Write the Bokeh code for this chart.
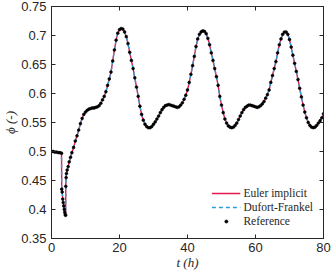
from bokeh.plotting import figure
from bokeh.models import (LinearAxis, Range1d, FixedTicker, Legend, LegendItem,
                          ColumnDataSource)
from bokeh.embed import file_html
from bokeh.resources import INLINE

# ---- data ----
t_h = [0, 0.5, 1, 1.5, 2, 2.5, 2.95, 3.0, 3.15, 3.3, 3.45, 3.6, 3.75, 3.9, 4.05, 4.15,
       4.2, 4.3, 4.4, 4.6, 4.9, 5.2, 5.6, 6.0, 6.5, 7.0, 7.5, 8.0, 8.5, 9.0, 9.5,
       10, 10.5, 11, 11.5, 12, 12.5, 13, 13.5, 14, 14.5, 15, 15.5, 16, 16.5, 17, 17.5,
       18, 18.5, 19, 19.5, 20, 20.5, 21, 21.5, 22, 22.5, 23, 23.5, 24, 24.5, 25, 25.5,
       26, 26.5, 27, 27.5, 28, 28.5, 29, 29.5, 30, 30.5, 31, 31.5, 32, 32.5, 33, 33.5,
       34, 34.5, 35, 35.5, 36, 36.5, 37, 37.5, 38, 38.5, 39, 39.5, 40, 40.5, 41, 41.5,
       42, 42.5, 43, 43.5, 44, 44.5, 45, 45.5, 46, 46.5, 47, 47.5, 48, 48.5, 49, 49.5,
       50, 50.5, 51, 51.5, 52, 52.5, 53, 53.5, 54, 54.5, 55, 55.5, 56, 56.5, 57, 57.5,
       58, 58.5, 59, 59.5, 60, 60.5, 61, 61.5, 62, 62.5, 63, 63.5, 64, 64.5, 65, 65.5,
       66, 66.5, 67, 67.5, 68, 68.5, 69, 69.5, 70, 70.5, 71, 71.5, 72, 72.5, 73, 73.5,
       74, 74.5, 75, 75.5, 76, 76.5, 77, 77.5, 78, 78.5, 79, 79.5, 80]
phi = [0.500, 0.500, 0.499, 0.499, 0.498, 0.498, 0.497, 0.435, 0.430, 0.418, 0.412, 0.406, 0.400, 0.395, 0.391, 0.390,
       0.440, 0.455, 0.462, 0.468, 0.474, 0.482, 0.490, 0.498, 0.507, 0.518, 0.527, 0.537, 0.548, 0.557, 0.564,
       0.568, 0.571, 0.573, 0.574, 0.575, 0.575, 0.576, 0.577, 0.579, 0.583, 0.589, 0.595, 0.603, 0.614, 0.625, 0.637,
       0.656, 0.675, 0.692, 0.704, 0.710, 0.712, 0.711, 0.706, 0.698, 0.686, 0.671, 0.657, 0.643, 0.627, 0.611, 0.595,
       0.578, 0.564, 0.554, 0.547, 0.543, 0.541, 0.541, 0.543, 0.547, 0.551, 0.556, 0.561, 0.567, 0.572, 0.576, 0.579,
       0.580, 0.581, 0.580, 0.579, 0.578, 0.577, 0.576, 0.577, 0.580, 0.584, 0.590, 0.597, 0.606, 0.619, 0.633, 0.648,
       0.664, 0.681, 0.694, 0.702, 0.706, 0.708, 0.707, 0.703, 0.695, 0.684, 0.670, 0.657, 0.643, 0.629, 0.614, 0.595,
       0.580, 0.567, 0.556, 0.549, 0.544, 0.542, 0.541, 0.542, 0.545, 0.549, 0.555, 0.561, 0.567, 0.572, 0.576, 0.578,
       0.580, 0.580, 0.579, 0.578, 0.577, 0.576, 0.577, 0.579, 0.582, 0.586, 0.592, 0.598, 0.606, 0.619, 0.631, 0.643,
       0.655, 0.670, 0.684, 0.694, 0.702, 0.706, 0.706, 0.702, 0.693, 0.680, 0.666, 0.652, 0.638, 0.624, 0.609, 0.594,
       0.580, 0.568, 0.558, 0.550, 0.545, 0.542, 0.541, 0.542, 0.545, 0.549, 0.553, 0.558, 0.565]

x_ticks = [0, 20, 40, 60, 80]
y_ticks = [0.35, 0.4, 0.45, 0.5, 0.55, 0.6, 0.65, 0.7, 0.75]
y_tick_labels = ["0.35", "0.4", "0.45", "0.5", "0.55", "0.6", "0.65", "0.7", "0.75"]
series_names = ["Euler implicit", "Dufort-Frankel", "Reference"]

src = ColumnDataSource(dict(t=t_h, phi=phi))

AX = "#262626"
p = figure(width=332, height=274, x_range=Range1d(0, 80), y_range=Range1d(0.35, 0.75),
           output_backend="svg", toolbar_location=None,
           min_border_top=6, min_border_right=9, min_border_left=51, min_border_bottom=36)
p.xgrid.visible = False
p.ygrid.visible = False
p.outline_line_color = AX
p.background_fill_color = "white"

def style_axis(ax):
    ax.axis_line_color = AX
    ax.major_tick_line_color = AX
    ax.minor_tick_line_color = None
    ax.major_tick_in = 4
    ax.major_tick_out = 0
    ax.major_label_text_font = "Liberation Sans"
    ax.major_label_text_font_size = "13px"
    ax.major_label_text_color = AX

p.xaxis.ticker = FixedTicker(ticks=x_ticks)
p.yaxis.ticker = FixedTicker(ticks=y_ticks)
p.yaxis.major_label_overrides = {v: s for v, s in zip(y_ticks, y_tick_labels)}
style_axis(p.xaxis[0])
style_axis(p.yaxis[0])
p.xaxis.major_label_standoff = 4
p.yaxis.major_label_standoff = 5
p.xaxis.axis_label = "t (h)"
p.yaxis.axis_label = "ϕ (-)"
for ax in (p.xaxis[0], p.yaxis[0]):
    ax.axis_label_text_font = "Liberation Serif"
    ax.axis_label_text_font_size = "13px"
    ax.axis_label_text_font_style = "italic"
    ax.axis_label_text_color = AX
p.xaxis.axis_label_standoff = 0
p.yaxis.axis_label_standoff = 0

# box ticks on top and right: unlabeled (minor) ticks only
top = LinearAxis(ticker=FixedTicker(ticks=[], minor_ticks=x_ticks))
right = LinearAxis(ticker=FixedTicker(ticks=[], minor_ticks=y_ticks))
for ax in (top, right):
    ax.axis_line_color = AX
    ax.major_tick_line_color = None
    ax.minor_tick_line_color = AX
    ax.minor_tick_in = 4
    ax.minor_tick_out = 0
    ax.major_label_standoff = 0
p.add_layout(top, "above")
p.add_layout(right, "right")

r1 = p.line("t", "phi", source=src, line_color="#e3184f", line_width=1.4)
r2 = p.line("t", "phi", source=src, line_color="#2b9fd3", line_width=1.4, line_dash="4 3")
r3 = p.scatter("t", "phi", source=src, size=2.8, fill_color="black", line_color="black",
               line_width=0.6)

legend = Legend(items=[LegendItem(label=series_names[0], renderers=[r1]),
                       LegendItem(label=series_names[1], renderers=[r2]),
                       LegendItem(label=series_names[2], renderers=[r3])],
                location="bottom_right")
legend.border_line_color = None
legend.background_fill_alpha = 0
legend.label_text_font = "Liberation Serif"
legend.label_text_font_size = "11.5px"
legend.label_text_color = AX
legend.glyph_width = 29
legend.glyph_height = 8
legend.label_height = 14
legend.label_standoff = 3
legend.spacing = 0
legend.padding = 0
legend.margin = 10
p.add_layout(legend)

open("out.html", "w").write(file_html(p, INLINE))
